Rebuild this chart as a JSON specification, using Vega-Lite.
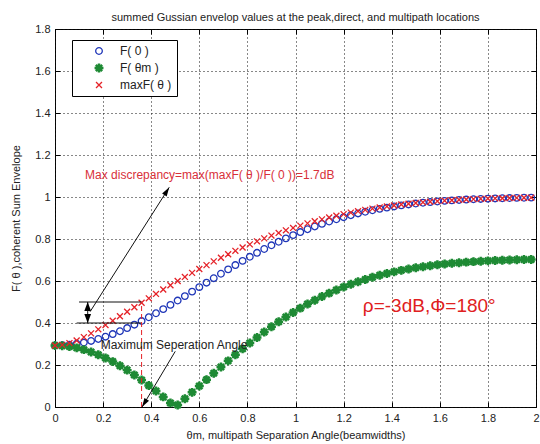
{
  "$schema": "https://vega.github.io/schema/vega-lite/v6.json",
  "width": 481,
  "height": 378,
  "autosize": {"type": "none"},
  "padding": {"left": 55, "top": 29, "right": 4, "bottom": 37},
  "background": "white",
  "title": {"text": "summed Gussian envelop values at the peak,direct, and multipath locations", "fontSize": 11, "font": "Liberation Sans", "fontWeight": "normal", "color": "#222", "anchor": "middle", "offset": 0},
  "config": {
    "view": {"stroke": "#000", "strokeWidth": 1},
    "font": "Liberation Sans",
    "axis": {"labelFont": "Liberation Sans", "titleFont": "Liberation Sans", "labelFontSize": 11, "titleFontSize": 11, "titleFontWeight": "normal", "labelColor": "#222", "titleColor": "#222", "domain": false, "tickColor": "#000", "tickSize": -5, "labelPadding": 10},
    "legend": {"orient": "none", "legendX": 17, "legendY": 11, "strokeColor": "#000", "fillColor": "#fff", "padding": 5, "labelFont": "Liberation Sans", "labelFontSize": 12, "labelColor": "#222", "symbolStrokeWidth": 1.3, "symbolSize": 44, "rowPadding": 4, "symbolOffset": 16, "labelOffset": 15}
  },
  "datasets": {
    "curves": [
      {"t": 0, "F0": 0.2929, "Fm": 0.2929, "maxF": 0.2929},
      {"t": 0.03, "F0": 0.2938, "Fm": 0.2916, "maxF": 0.2959},
      {"t": 0.06, "F0": 0.2964, "Fm": 0.2879, "maxF": 0.3043},
      {"t": 0.09, "F0": 0.3008, "Fm": 0.2817, "maxF": 0.3169},
      {"t": 0.12, "F0": 0.3069, "Fm": 0.2731, "maxF": 0.3327},
      {"t": 0.15, "F0": 0.3146, "Fm": 0.2622, "maxF": 0.3506},
      {"t": 0.18, "F0": 0.3239, "Fm": 0.249, "maxF": 0.3699},
      {"t": 0.21, "F0": 0.3348, "Fm": 0.2336, "maxF": 0.3901},
      {"t": 0.24, "F0": 0.3472, "Fm": 0.2161, "maxF": 0.411},
      {"t": 0.27, "F0": 0.3609, "Fm": 0.1968, "maxF": 0.4322},
      {"t": 0.3, "F0": 0.3758, "Fm": 0.1756, "maxF": 0.4535},
      {"t": 0.33, "F0": 0.392, "Fm": 0.1528, "maxF": 0.475},
      {"t": 0.36, "F0": 0.4092, "Fm": 0.1284, "maxF": 0.4963},
      {"t": 0.39, "F0": 0.4273, "Fm": 0.1028, "maxF": 0.5175},
      {"t": 0.42, "F0": 0.4463, "Fm": 0.076, "maxF": 0.5385},
      {"t": 0.45, "F0": 0.466, "Fm": 0.0481, "maxF": 0.5593},
      {"t": 0.48, "F0": 0.4862, "Fm": 0.0195, "maxF": 0.5797},
      {"t": 0.51, "F0": 0.5069, "Fm": 0.0098, "maxF": 0.5997},
      {"t": 0.54, "F0": 0.528, "Fm": 0.0396, "maxF": 0.6194},
      {"t": 0.57, "F0": 0.5493, "Fm": 0.0697, "maxF": 0.6386},
      {"t": 0.6, "F0": 0.5707, "Fm": 0.1, "maxF": 0.6574},
      {"t": 0.63, "F0": 0.5921, "Fm": 0.1303, "maxF": 0.6757},
      {"t": 0.66, "F0": 0.6134, "Fm": 0.1604, "maxF": 0.6935},
      {"t": 0.69, "F0": 0.6345, "Fm": 0.1903, "maxF": 0.7108},
      {"t": 0.72, "F0": 0.6553, "Fm": 0.2197, "maxF": 0.7275},
      {"t": 0.75, "F0": 0.6758, "Fm": 0.2486, "maxF": 0.7437},
      {"t": 0.78, "F0": 0.6958, "Fm": 0.2769, "maxF": 0.7594},
      {"t": 0.81, "F0": 0.7152, "Fm": 0.3044, "maxF": 0.7744},
      {"t": 0.84, "F0": 0.7341, "Fm": 0.3311, "maxF": 0.7889},
      {"t": 0.87, "F0": 0.7524, "Fm": 0.3569, "maxF": 0.8029},
      {"t": 0.9, "F0": 0.77, "Fm": 0.3818, "maxF": 0.8162},
      {"t": 0.93, "F0": 0.7868, "Fm": 0.4056, "maxF": 0.829},
      {"t": 0.96, "F0": 0.8029, "Fm": 0.4284, "maxF": 0.8412},
      {"t": 0.99, "F0": 0.8183, "Fm": 0.4501, "maxF": 0.8528},
      {"t": 1.02, "F0": 0.8329, "Fm": 0.4707, "maxF": 0.8638},
      {"t": 1.05, "F0": 0.8466, "Fm": 0.4902, "maxF": 0.8743},
      {"t": 1.08, "F0": 0.8596, "Fm": 0.5086, "maxF": 0.8842},
      {"t": 1.11, "F0": 0.8719, "Fm": 0.5259, "maxF": 0.8935},
      {"t": 1.14, "F0": 0.8833, "Fm": 0.5421, "maxF": 0.9024},
      {"t": 1.17, "F0": 0.894, "Fm": 0.5572, "maxF": 0.9107},
      {"t": 1.2, "F0": 0.9039, "Fm": 0.5713, "maxF": 0.9184},
      {"t": 1.23, "F0": 0.9132, "Fm": 0.5843, "maxF": 0.9257},
      {"t": 1.26, "F0": 0.9217, "Fm": 0.5964, "maxF": 0.9325},
      {"t": 1.29, "F0": 0.9296, "Fm": 0.6075, "maxF": 0.9388},
      {"t": 1.32, "F0": 0.9368, "Fm": 0.6178, "maxF": 0.9447},
      {"t": 1.35, "F0": 0.9435, "Fm": 0.6272, "maxF": 0.9501},
      {"t": 1.38, "F0": 0.9495, "Fm": 0.6358, "maxF": 0.9551},
      {"t": 1.41, "F0": 0.9551, "Fm": 0.6436, "maxF": 0.9597},
      {"t": 1.44, "F0": 0.9601, "Fm": 0.6507, "maxF": 0.964},
      {"t": 1.47, "F0": 0.9646, "Fm": 0.6571, "maxF": 0.9678},
      {"t": 1.5, "F0": 0.9688, "Fm": 0.6629, "maxF": 0.9714},
      {"t": 1.53, "F0": 0.9725, "Fm": 0.6681, "maxF": 0.9746},
      {"t": 1.56, "F0": 0.9758, "Fm": 0.6729, "maxF": 0.9775},
      {"t": 1.59, "F0": 0.9787, "Fm": 0.6771, "maxF": 0.9802},
      {"t": 1.62, "F0": 0.9814, "Fm": 0.6808, "maxF": 0.9825},
      {"t": 1.65, "F0": 0.9838, "Fm": 0.6841, "maxF": 0.9847},
      {"t": 1.68, "F0": 0.9859, "Fm": 0.6871, "maxF": 0.9866},
      {"t": 1.71, "F0": 0.9877, "Fm": 0.6898, "maxF": 0.9883},
      {"t": 1.74, "F0": 0.9894, "Fm": 0.6921, "maxF": 0.9898},
      {"t": 1.77, "F0": 0.9908, "Fm": 0.6941, "maxF": 0.9912},
      {"t": 1.8, "F0": 0.9921, "Fm": 0.6959, "maxF": 0.9924},
      {"t": 1.83, "F0": 0.9932, "Fm": 0.6975, "maxF": 0.9934},
      {"t": 1.86, "F0": 0.9942, "Fm": 0.6988, "maxF": 0.9943},
      {"t": 1.89, "F0": 0.995, "Fm": 0.7, "maxF": 0.9951},
      {"t": 1.92, "F0": 0.9957, "Fm": 0.7011, "maxF": 0.9958},
      {"t": 1.95, "F0": 0.9964, "Fm": 0.702, "maxF": 0.9964},
      {"t": 1.98, "F0": 0.9969, "Fm": 0.7028, "maxF": 0.997}
    ],
    "lines": [
      {"x": 0.1, "y": 0.5, "x2": 0.36, "y2": 0.5},
      {"x": 0.09, "y": 0.4, "x2": 0.36, "y2": 0.4},
      {"x": 0.136, "y": 0.4, "x2": 0.136, "y2": 0.5},
      {"x": 0.146, "y": 0.454, "x2": 0.475, "y2": 1.046},
      {"x": 0.5, "y": 0.265, "x2": 0.362, "y2": 0.0}
    ]
  },
  "layer": [
    {
      "data": {"name": "curves"},
      "transform": [{"fold": ["F0", "Fm", "maxF"], "as": ["series", "value"]}],
      "mark": {"type": "point", "size": 44, "strokeWidth": 1.3, "opacity": 1},
      "encoding": {
        "x": {"field": "t", "type": "quantitative", "scale": {"domain": [0, 2], "nice": false, "zero": false},
          "axis": {"orient": "bottom", "values": [0, 0.2, 0.4, 0.6, 0.8, 1, 1.2, 1.4, 1.6, 1.8, 2], "labelExpr": "'' + datum.value", "labelFlush": false, "grid": true, "gridDash": [1, 3], "gridColor": "#111", "gridOpacity": 1, "title": "θm, multipath Separation Angle(beamwidths)", "titlePadding": 6}},
        "y": {"field": "value", "type": "quantitative", "scale": {"domain": [0, 1.8], "nice": false, "zero": false},
          "axis": {"orient": "left", "values": [0, 0.2, 0.4, 0.6, 0.8, 1, 1.2, 1.4, 1.6, 1.8], "labelExpr": "'' + datum.value", "labelFlush": false, "grid": true, "gridDash": [1, 3], "gridColor": "#111", "gridOpacity": 1, "title": "F( θ ),coherent Sum Envelope", "titlePadding": 13}},
        "stroke": {"field": "series", "type": "nominal", "scale": {"domain": ["F0", "Fm", "maxF"], "range": ["#1f36b8", "#1e8a34", "#e52228"]},
          "legend": {"title": null, "labelExpr": "datum.value == 'F0' ? 'F( 0 )' : datum.value == 'Fm' ? 'F( θm )' : 'maxF( θ )'"}},
        "fill": {"field": "series", "type": "nominal", "scale": {"domain": ["F0", "Fm", "maxF"], "range": ["transparent", "#1e8a34", "transparent"]},
          "legend": {"title": null, "labelExpr": "datum.value == 'F0' ? 'F( 0 )' : datum.value == 'Fm' ? 'F( θm )' : 'maxF( θ )'"}},
        "shape": {"field": "series", "type": "nominal", "scale": {"domain": ["F0", "Fm", "maxF"], "range": ["M1,0A1,1,0,1,1,-1,0A1,1,0,1,1,1,0Z", "M-1.15,-0.18L1.15,-0.18L1.15,0.18L-1.15,0.18Z M-0.18,-1.15L0.18,-1.15L0.18,1.15L-0.18,1.15Z M-0.68,-0.93L0.93,0.68L0.68,0.93L-0.93,-0.68Z M-0.93,0.68L0.68,-0.93L0.93,-0.68L-0.68,0.93Z", "M-0.9,-0.9L0.9,0.9M-0.9,0.9L0.9,-0.9"]},
          "legend": {"title": null, "labelExpr": "datum.value == 'F0' ? 'F( 0 )' : datum.value == 'Fm' ? 'F( θm )' : 'maxF( θ )'"}}
      }
    },
    {
      "data": {"name": "lines"},
      "mark": {"type": "rule", "color": "#111", "strokeWidth": 1},
      "encoding": {
        "x": {"field": "x", "type": "quantitative", "axis": null},
        "y": {"field": "y", "type": "quantitative", "axis": null},
        "x2": {"field": "x2"},
        "y2": {"field": "y2"}
      }
    },
    {
      "data": {"values": [{"x": 0.36, "y": 0, "y2": 0.5}]},
      "mark": {"type": "rule", "color": "#e52228", "strokeWidth": 1, "strokeDash": [5, 3]},
      "encoding": {
        "x": {"field": "x", "type": "quantitative", "axis": {"orient": "top", "values": [0, 0.2, 0.4, 0.6, 0.8, 1, 1.2, 1.4, 1.6, 1.8, 2], "labels": false, "grid": false, "title": null}},
        "y": {"field": "y", "type": "quantitative", "axis": {"orient": "right", "values": [0, 0.2, 0.4, 0.6, 0.8, 1, 1.2, 1.4, 1.6, 1.8], "labels": false, "grid": false, "title": null}},
        "y2": {"field": "y2"}
      }
    },
    {
      "data": {"values": [{"x": 0.136, "y": 0.5}]},
      "mark": {"type": "point", "shape": "M0,0L0.75,2L-0.75,2Z", "size": 81, "filled": true, "color": "#000", "opacity": 1, "angle": 0},
      "encoding": {"x": {"field": "x", "type": "quantitative", "axis": null}, "y": {"field": "y", "type": "quantitative", "axis": null}}
    },
    {
      "data": {"values": [{"x": 0.136, "y": 0.4}]},
      "mark": {"type": "point", "shape": "M0,0L0.75,2L-0.75,2Z", "size": 81, "filled": true, "color": "#000", "opacity": 1, "angle": 180},
      "encoding": {"x": {"field": "x", "type": "quantitative", "axis": null}, "y": {"field": "y", "type": "quantitative", "axis": null}}
    },
    {
      "data": {"values": [{"x": 0.475, "y": 1.046}]},
      "mark": {"type": "point", "shape": "M0,0L0.6,2L-0.6,2Z", "size": 81, "filled": true, "color": "#000", "opacity": 1, "angle": 32.5},
      "encoding": {"x": {"field": "x", "type": "quantitative", "axis": null}, "y": {"field": "y", "type": "quantitative", "axis": null}}
    },
    {
      "data": {"values": [{"x": 0.362, "y": 0.0}]},
      "mark": {"type": "point", "shape": "M0,0L0.6,2L-0.6,2Z", "size": 81, "filled": true, "color": "#000", "opacity": 1, "angle": 211},
      "encoding": {"x": {"field": "x", "type": "quantitative", "axis": null}, "y": {"field": "y", "type": "quantitative", "axis": null}}
    },
    {
      "data": {"values": [{"x": 0.125, "y": 1.105, "label": "Max discrepancy=max(maxF( θ )/F( 0 ))=1.7dB"}]},
      "mark": {"type": "text", "align": "left", "baseline": "middle", "font": "Liberation Sans", "fontSize": 12, "color": "#d8303a"},
      "encoding": {"x": {"field": "x", "type": "quantitative", "axis": null}, "y": {"field": "y", "type": "quantitative", "axis": null}, "text": {"field": "label"}}
    },
    {
      "data": {"values": [{"x": 0.19, "y": 0.295, "label": "Maximum Seperation Angle"}]},
      "mark": {"type": "text", "align": "left", "baseline": "middle", "font": "Liberation Sans", "fontSize": 12, "color": "#222"},
      "encoding": {"x": {"field": "x", "type": "quantitative", "axis": null}, "y": {"field": "y", "type": "quantitative", "axis": null}, "text": {"field": "label"}}
    },
    {
      "data": {"values": [{"x": 1.28, "y": 0.481, "label": "ρ=-3dB,Φ=180°"}]},
      "mark": {"type": "text", "align": "left", "baseline": "middle", "font": "Liberation Sans", "fontSize": 19, "color": "#e02020"},
      "encoding": {"x": {"field": "x", "type": "quantitative", "axis": null}, "y": {"field": "y", "type": "quantitative", "axis": null}, "text": {"field": "label"}}
    }
  ],
  "resolve": {"axis": {"x": "independent", "y": "independent"}}
}
